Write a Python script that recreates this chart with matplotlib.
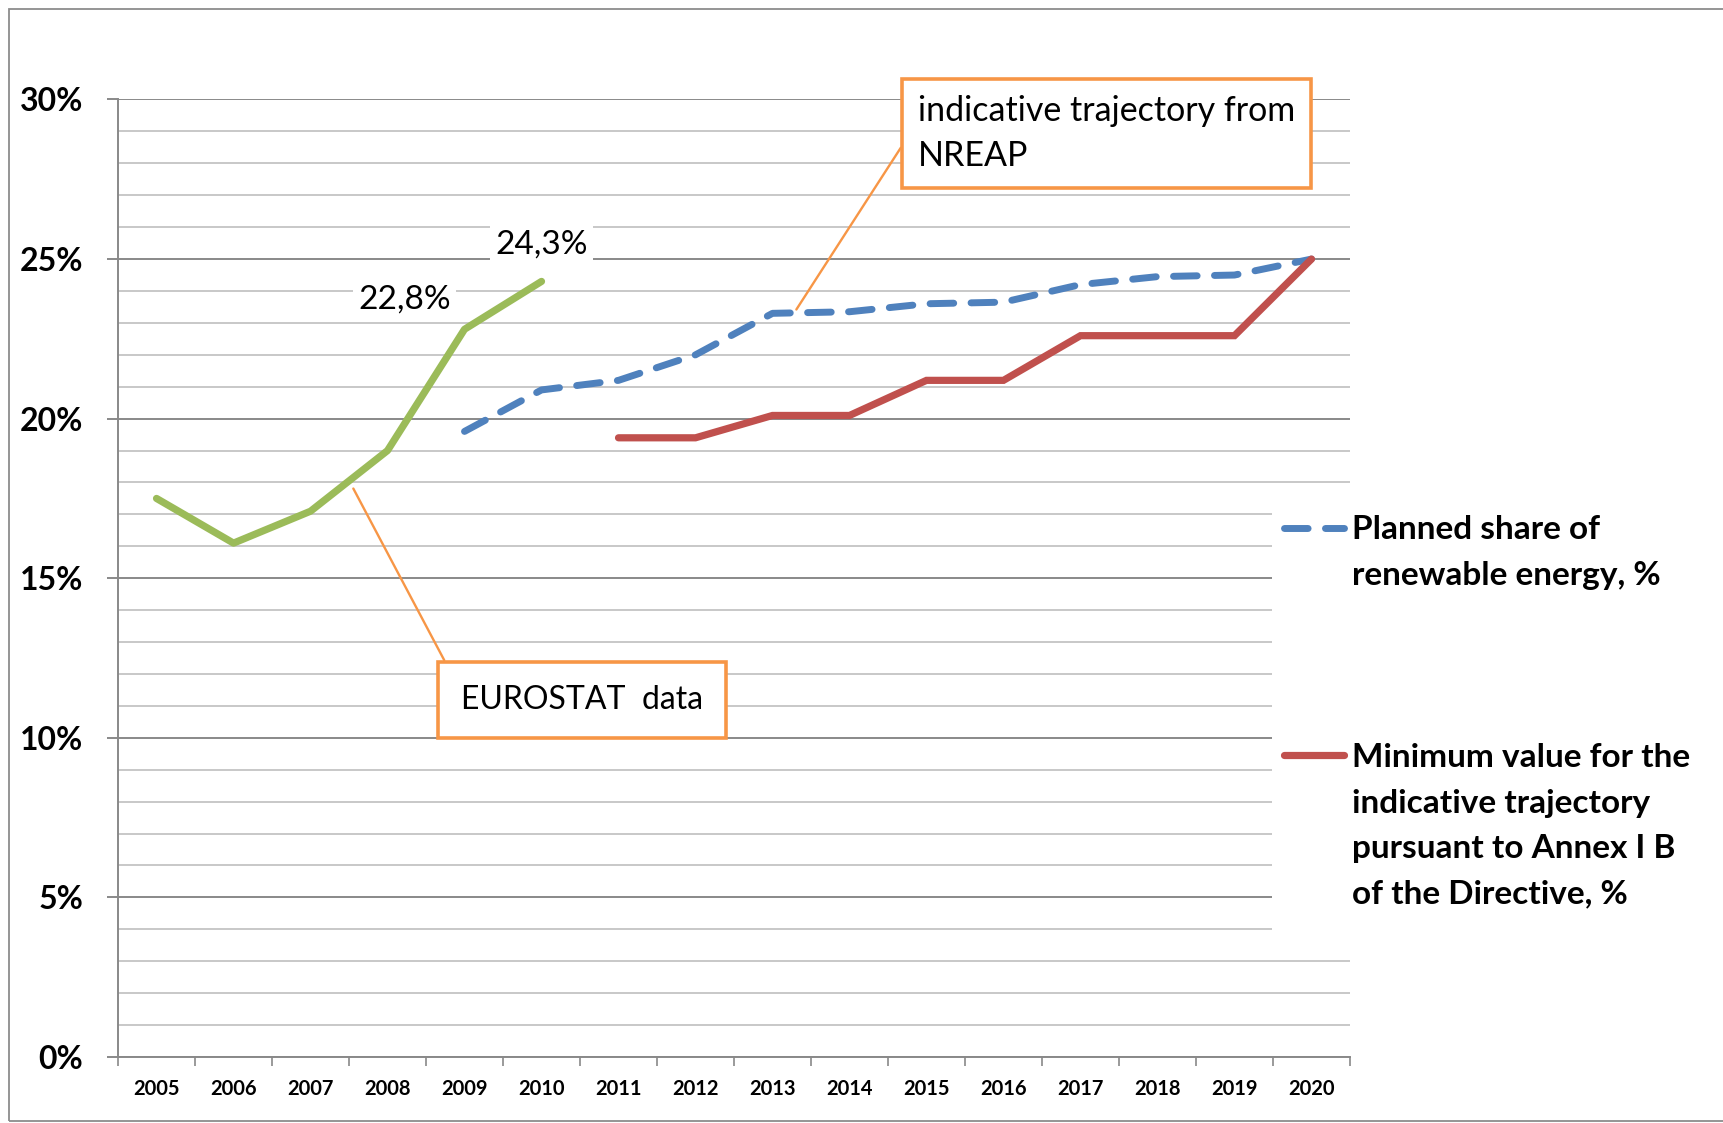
import numpy as np
import matplotlib
matplotlib.use("Agg")
import matplotlib.pyplot as plt
from matplotlib.lines import Line2D
from matplotlib.patches import Rectangle

plt.rcParams['font.family'] = ['Lato', 'DejaVu Sans']

# data (share of renewable energy, %)
years = ['2005', '2006', '2007', '2008', '2009', '2010', '2011', '2012',
         '2013', '2014', '2015', '2016', '2017', '2018', '2019', '2020']

eurostat_years = ['2005', '2006', '2007', '2008', '2009', '2010']
eurostat = [17.5, 16.1, 17.1, 19.0, 22.8, 24.3]

planned_years = ['2009', '2010', '2011', '2012', '2013', '2014',
                 '2015', '2016', '2017', '2018', '2019', '2020']
planned = [19.6, 20.9, 21.2, 22.0, 23.3, 23.35, 23.6, 23.65, 24.2, 24.45, 24.5, 25.0]

minimum_years = ['2011', '2012', '2013', '2014', '2015', '2016',
                 '2017', '2018', '2019', '2020']
minimum = [19.4, 19.4, 20.1, 20.1, 21.2, 21.2, 22.6, 22.6, 22.6, 25.0]

yticks = [0, 5, 10, 15, 20, 25, 30]
ytick_labels = ['0%', '5%', '10%', '15%', '20%', '25%', '30%']

green = '#9BBB59'
blue = '#4F81BD'
red = '#C0504D'
orange = '#F79646'
grey = '#898989'

def idx(yrs):
    return [years.index(y) for y in yrs]

fig = plt.figure(figsize=(17.23, 11.23), dpi=100)
ax = fig.add_axes([0.0685, 0.0588, 0.715, 0.8526])

ax.plot(idx(eurostat_years), eurostat, color=green, lw=5.2,
        solid_capstyle='round', solid_joinstyle='round', zorder=4)
l_plan, = ax.plot(idx(planned_years), planned, color=blue, lw=5.0,
                  linestyle=(0, (3.4, 2.5)), dash_capstyle='round',
                  dash_joinstyle='round', zorder=4)
l_min, = ax.plot(idx(minimum_years), minimum, color=red, lw=5.2,
                 solid_capstyle='round', solid_joinstyle='miter', zorder=4)

ax.set_xlim(-0.5, len(years) - 0.5)
ax.set_ylim(0, 30)

# y axis
ax.set_yticks(yticks)
ax.set_yticklabels(ytick_labels, fontsize=23, fontweight='bold')
ax.set_yticks(np.arange(0, 31, 1), minor=True)
ax.tick_params(axis='y', which='major', length=8, width=1.4, color=grey, pad=17)
ax.tick_params(axis='y', which='minor', length=0)
ax.yaxis.grid(True, which='major', color=grey, lw=1.4)
ax.yaxis.grid(True, which='minor', color='#C8C8C8', lw=1.4)
ax.set_axisbelow(True)

# x axis: ticks between categories, labels at the centres
ax.set_xticks(np.arange(-0.5, len(years), 1))
ax.set_xticklabels([])
ax.set_xticks(np.arange(len(years)), minor=True)
ax.set_xticklabels(years, minor=True, fontsize=14.5, fontweight='bold')
ax.tick_params(axis='x', which='major', length=6.7, width=1.2, color=grey)
ax.tick_params(axis='x', which='minor', length=0, pad=16)

for s in ['top', 'right']:
    ax.spines[s].set_visible(False)
for s in ['left', 'bottom']:
    ax.spines[s].set_color(grey)
    ax.spines[s].set_linewidth(1.4)

# value labels
ax.annotate('22,8%', xy=(years.index('2009'), eurostat[4]), xytext=(-43, 21.6),
            textcoords='offset points', ha='center', va='center', fontsize=24,
            bbox=dict(boxstyle='square,pad=0.15', fc='white', ec='none'))
ax.annotate('24,3%', xy=(years.index('2010'), eurostat[5]), xytext=(0, 26.6),
            textcoords='offset points', ha='center', va='center', fontsize=24,
            bbox=dict(boxstyle='square,pad=0.15', fc='white', ec='none'))

# callouts
ax.annotate('indicative trajectory from\nNREAP',
            xy=(years.index('2013') + 0.31, planned[4] + 0.12), xytext=(12.34, 28.94),
            textcoords='data', ha='center', va='center', multialignment='left',
            fontsize=24.5, linespacing=1.5,
            bbox=dict(boxstyle='square,pad=0.47', fc='white', ec=orange, lw=2.6),
            arrowprops=dict(arrowstyle='-', color=orange, lw=1.7, relpos=(0, 0.66),
                            shrinkA=0, shrinkB=0),
            zorder=6)
ax.annotate('EUROSTAT  data',
            xy=(2.556, 17.81), xytext=(5.53, 11.2),
            textcoords='data', ha='center', va='center',
            fontsize=23,
            bbox=dict(boxstyle='square,pad=0.72', fc='white', ec=orange, lw=2.6),
            arrowprops=dict(arrowstyle='-', color=orange, lw=1.7, relpos=(0, 0.74),
                            shrinkA=0, shrinkB=0),
            zorder=6)

# white area behind the legend hides the gridline ends
ax.add_patch(Rectangle((0.937, 0.117), 0.1, 0.467, transform=ax.transAxes,
                       fc='white', ec='none', zorder=1, clip_on=False))

# legend, multi-line labels built from single rows so handles sit on first line
blank = Line2D([], [], color='none')
handles = [l_plan, blank, blank, blank, blank, l_min, blank, blank, blank]
labels = ['Planned share of', 'renewable energy, %', '', '', '',
          'Minimum value for the', 'indicative trajectory',
          'pursuant to Annex I B', 'of the Directive, %']
leg = ax.legend(handles, labels, loc='upper left', bbox_to_anchor=(0.9355, 0.5796),
                borderaxespad=0, frameon=False, handlelength=1.8,
                handletextpad=0.25, labelspacing=0.496, borderpad=0.4,
                prop=dict(family='Lato', weight='bold', size=24))

# outer chart border
fig.patches.append(Rectangle((9 / 1723, 2 / 1123), 1.2, 1112 / 1123,
                             transform=fig.transFigure, fill=False,
                             ec='#8C8C8C', lw=1.3))

fig.savefig('out.png', dpi=100, facecolor='white')
